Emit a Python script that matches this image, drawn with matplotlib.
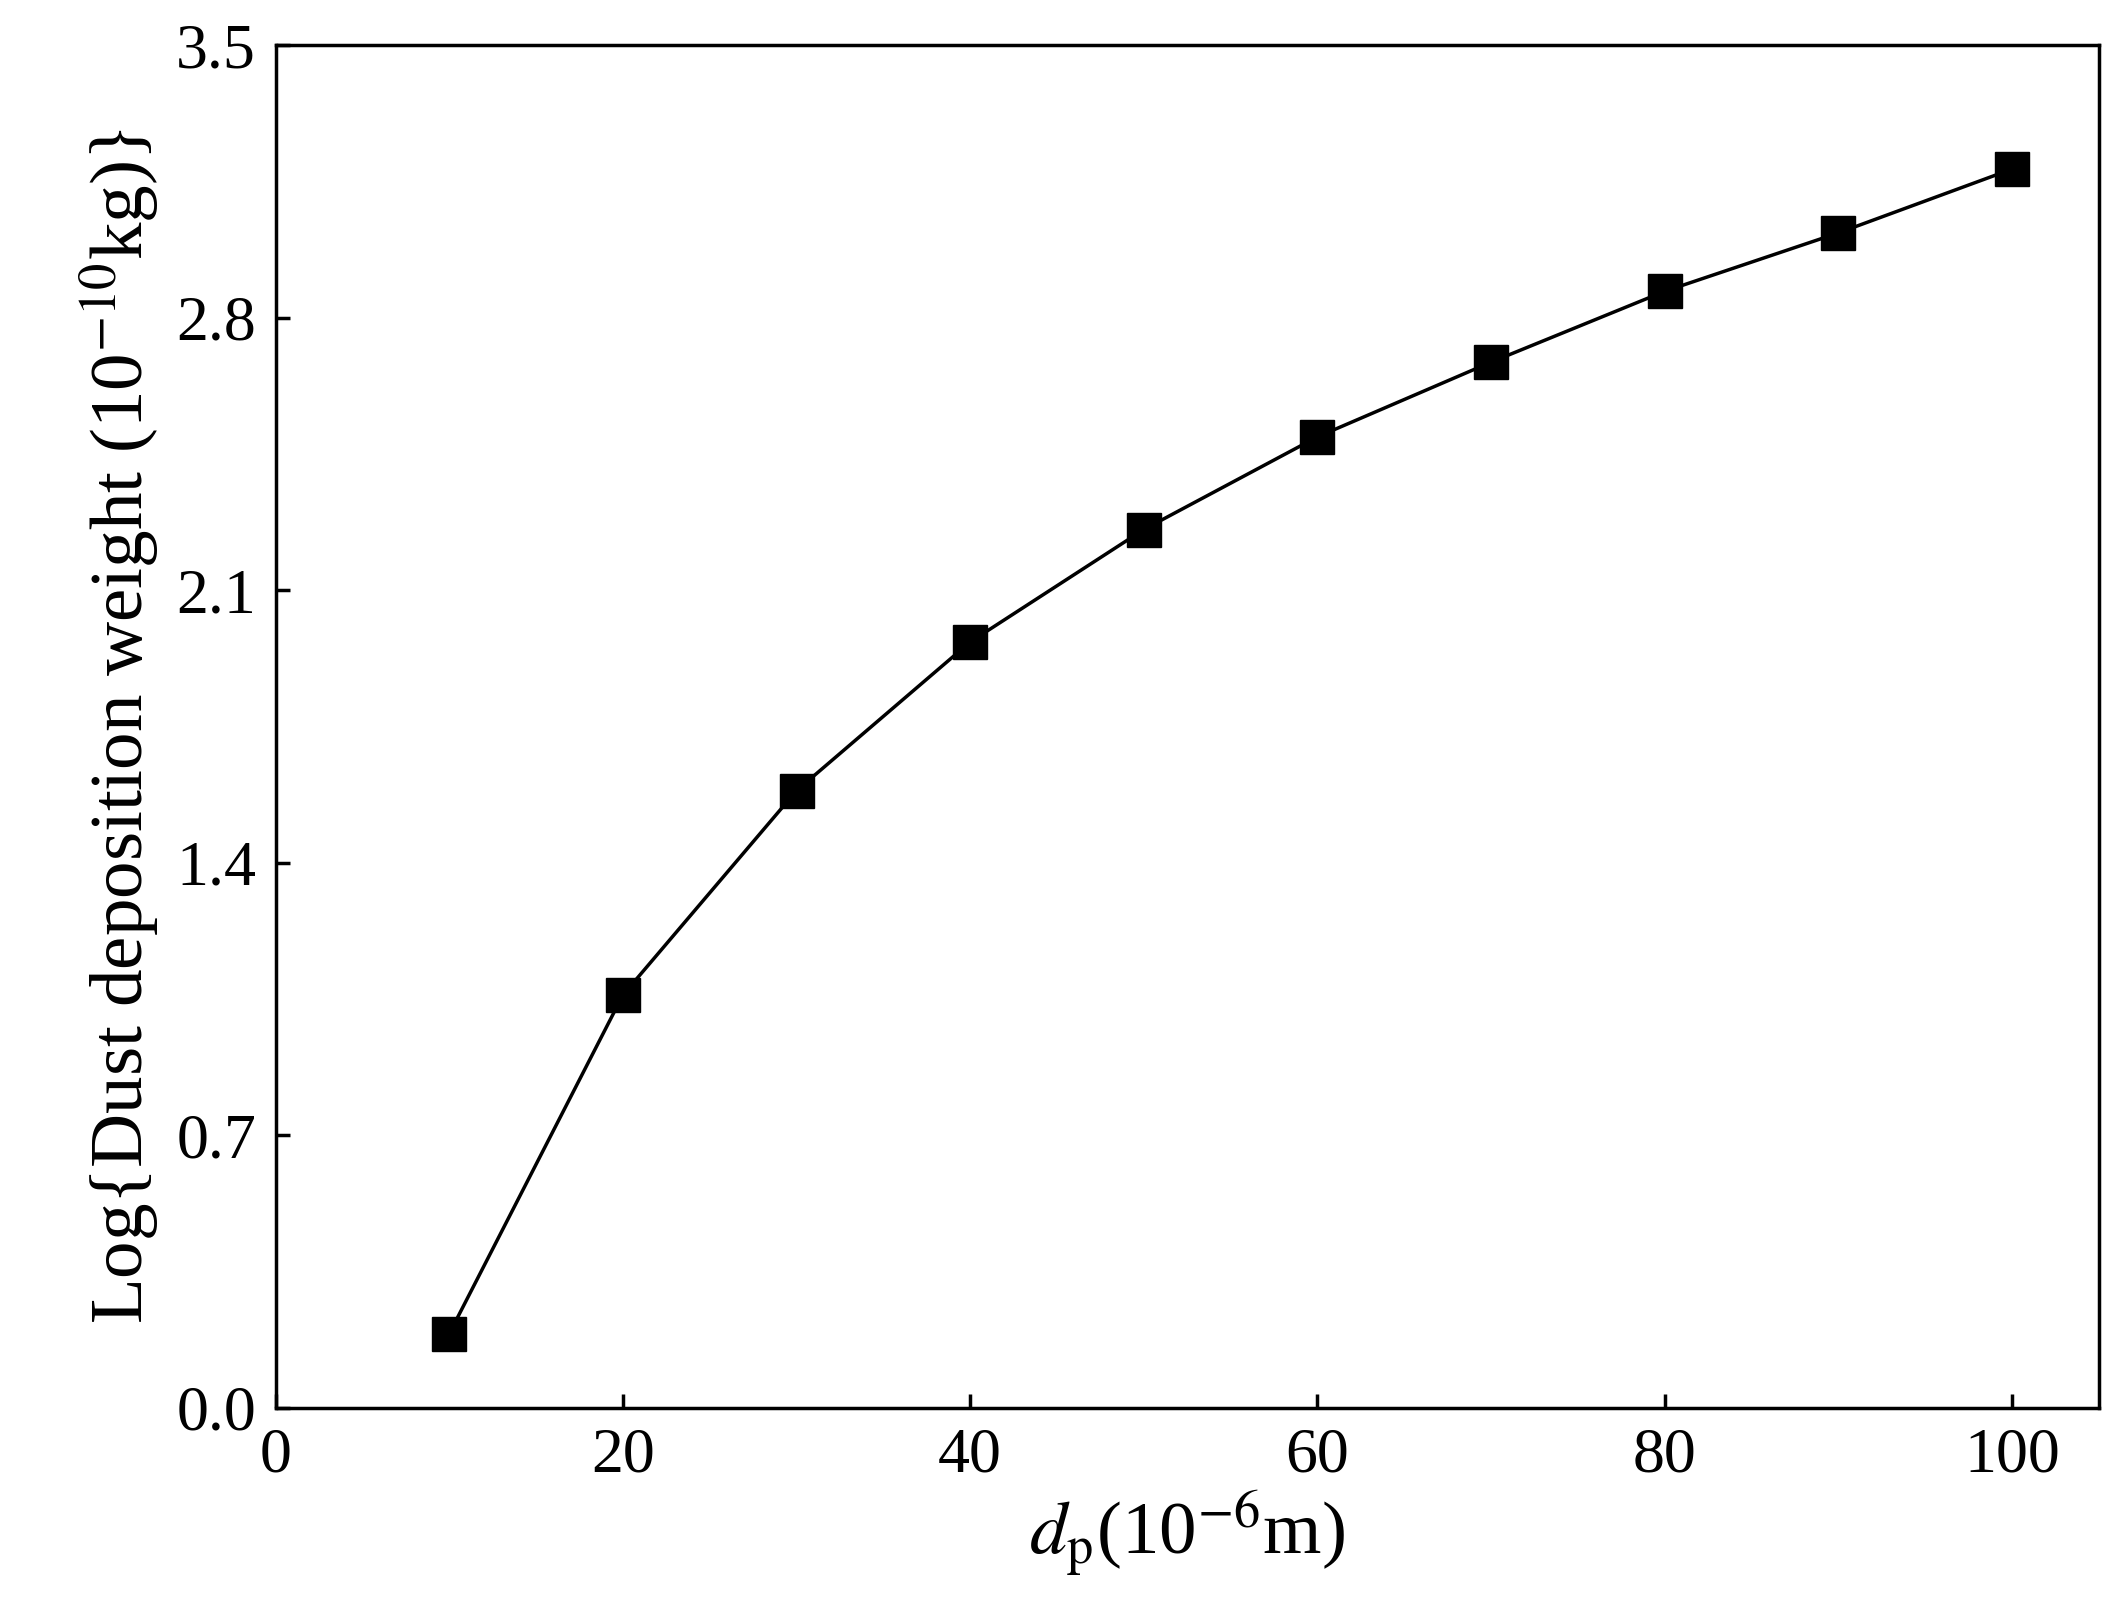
import matplotlib
matplotlib.use("Agg")
import matplotlib.pyplot as plt

dp = [10, 20, 30, 40, 50, 60, 70, 80, 90, 100]
logw = [0.19, 1.06, 1.585, 1.967, 2.256, 2.494, 2.686, 2.868, 3.018, 3.182]
yticks = [0.0, 0.7, 1.4, 2.1, 2.8, 3.5]
xticks = [0, 20, 40, 60, 80, 100]

plt.rcParams['font.family'] = ['Liberation Serif', 'DejaVu Serif']
plt.rcParams['mathtext.fontset'] = 'stix'
fig = plt.figure(figsize=(21.2, 16.18), dpi=100)
ax = fig.add_axes([0.130, 0.130, 0.860, 0.842])
ax.plot(dp, logw, color='black', lw=2.5, marker='s', ms=24)
ax.set_xlim(0, 105)
ax.set_ylim(0, 3.5)
ax.set_xticks(xticks)
ax.set_yticks(yticks)
ax.set_yticklabels([f"{v:.1f}" for v in yticks])
ax.tick_params(labelsize=46, direction='in', length=10, width=2.5, pad=14)
for s in ax.spines.values():
    s.set_linewidth(2.5)
ax.set_xlabel(r'$d_{\rm p}$(10$^{-6}$m)', fontsize=54, labelpad=2)
ax.set_ylabel(r'Log{Dust deposition weight (10$^{-10}$kg)}', fontsize=54, labelpad=10)
fig.savefig('out.png', dpi=100)
